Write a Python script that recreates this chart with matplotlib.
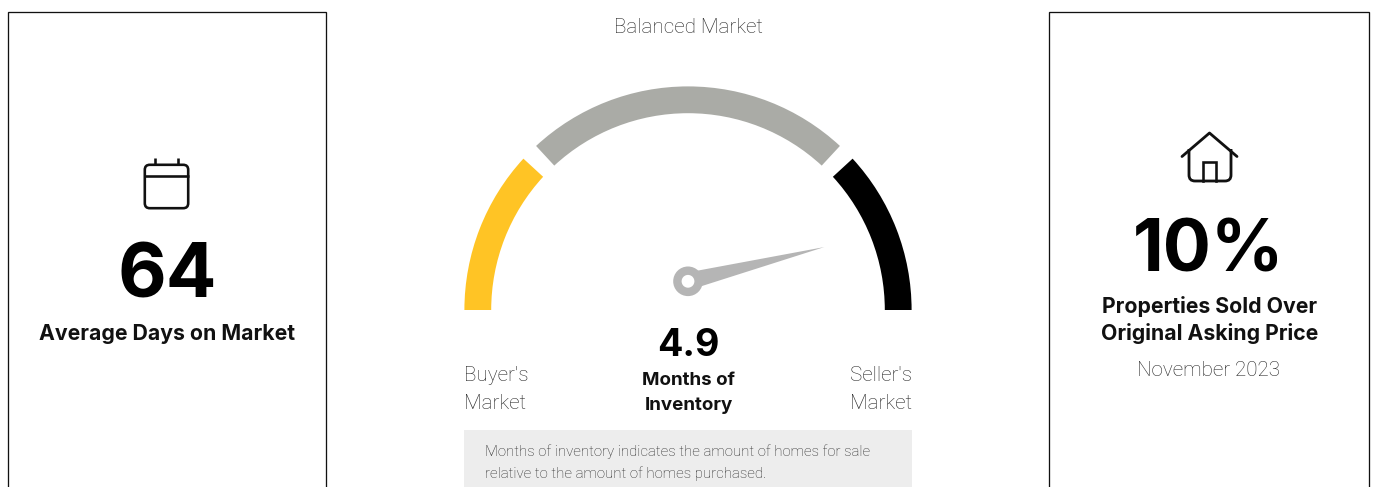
import numpy as np
import matplotlib
matplotlib.use('Agg')
import matplotlib.pyplot as plt
from matplotlib.patches import Wedge, Circle, Polygon, Rectangle, FancyBboxPatch, PathPatch
from matplotlib.path import Path

# gauge segments, degrees from the right hand side
segment_names = ["Buyer's Market", "Balanced Market", "Seller's Market"]
segment_from = [137.4, 47.2, 0.0]
segment_to = [180.0, 132.8, 42.6]
segment_colors = ['#ffc425', '#aaaba6', '#000000']
needle_angle = 14.1
needle_length = 140.5

months_value = '4.9'
days_value = '64'
over_asking_value = '10%'
date_label = 'November 2023'

W, H = 1374, 487
fig = plt.figure(figsize=(W / 100, H / 100), dpi=100, facecolor='white')
ax = fig.add_axes([0, 0, 1, 1])
ax.set_xlim(0, W)
ax.set_ylim(H, 0)
ax.axis('off')

PX = 0.72  # one pixel in points
BOLD = 'Inter'
LIGHT = 'Roboto'
GREY = '#262626'

# cards, they run off the bottom
for x0, x1 in [(7.9, 326.2), (1049.3, 1369)]:
    ax.add_patch(Rectangle((x0, 11.6), x1 - x0, H + 20, fc='white', ec='#111111', lw=1.3 * PX))

# gauge, y axis is flipped so mirror the angles
cx, cy = 688, 310
for a0, a1, c in zip(segment_from, segment_to, segment_colors):
    ax.add_patch(Wedge((cx, cy), 223.6, -a1, -a0, width=26.8, fc=c, ec='none'))

# needle
hx, hy = 688, 281.3
a = np.radians(needle_angle)
tip = (hx + needle_length * np.cos(a), hy - needle_length * np.sin(a))
nx, ny = np.sin(a), np.cos(a)
ax.add_patch(Polygon([(hx + 12 * np.cos(a) - nx * 8, hy - 12 * np.sin(a) - ny * 8),
                      tip,
                      (hx + 12 * np.cos(a) + nx * 8, hy - 12 * np.sin(a) + ny * 8)],
                     fc='#b5b5b5', ec='none'))
ax.add_patch(Circle((hx, hy), 10.6, fc='white', ec='#b5b5b5', lw=8.4 * PX))

# calendar icon
ic = '#111111'
lw_icon = 2.6 * PX
ax.add_patch(FancyBboxPatch((150, 170), 33, 33, boxstyle='round,pad=5.2,rounding_size=5',
                            fc='none', ec=ic, lw=lw_icon))
ax.plot([145, 188.5], [175.5, 175.5], color=ic, lw=lw_icon, solid_capstyle='butt')
ax.plot([155.3, 155.3], [158, 165], color=ic, lw=lw_icon, solid_capstyle='butt')
ax.plot([177.7, 177.7], [158, 165], color=ic, lw=lw_icon, solid_capstyle='butt')

# house icon
ax.plot([1182, 1209.5, 1237], [156.5, 133, 156.5], color=ic, lw=2.8 * PX,
        solid_capstyle='round', solid_joinstyle='round')
house = Path([(1189, 149), (1189, 175), (1189, 181), (1195, 181), (1225, 181), (1231, 181),
              (1231, 175), (1231, 149)],
             [Path.MOVETO, Path.LINETO, Path.CURVE3, Path.CURVE3, Path.LINETO, Path.CURVE3,
              Path.CURVE3, Path.LINETO])
ax.add_patch(PathPatch(house, fc='none', ec=ic, lw=2.8 * PX))
ax.plot([1203, 1203, 1216, 1216], [181, 162, 162, 181], color=ic, lw=2.6 * PX,
        solid_joinstyle='miter')

# note box
ax.add_patch(Rectangle((464, 430), 448, 60, fc='#ededed', ec='none'))


def label(x, y, s, size, ha='center', weight='normal', family=LIGHT, color='#111111', **kw):
    ax.text(x, y, s, fontsize=size, ha=ha, va='baseline', fontweight=weight, family=family,
            color=color, **kw)


label(167, 298, days_value, 54, weight='bold', family=BOLD, color='black')
label(167, 339.5, 'Average Days on Market', 15.3, weight='bold', family=BOLD)

label(688.5, 33, segment_names[1], 14.9, color=GREY, weight='light')
label(688.5, 356.5, months_value, 27, weight='bold', family=BOLD, color='black')
label(688.5, 385, 'Months of', 13.5, weight='bold', family=BOLD)
label(688.5, 409.5, 'Inventory', 13.5, weight='bold', family=BOLD)

label(464, 381, "Buyer's", 14.9, ha='left', color=GREY, weight='light')
label(464, 409, 'Market', 14.9, ha='left', color=GREY, weight='light')
label(912.5, 381, "Seller's", 14.9, ha='right', color=GREY, weight='light')
label(912.5, 409, 'Market', 14.9, ha='right', color=GREY, weight='light')

label(485, 456, 'Months of inventory indicates the amount of homes for sale', 10.8, ha='left', color=GREY, weight='light')
label(485, 478, 'relative to the amount of homes purchased.', 10.8, ha='left', color=GREY, weight='light')

label(1209, 272, over_asking_value, 51.5, weight='bold', family=BOLD, color='black')
label(1209.5, 313, 'Properties Sold Over', 15.3, weight='bold', family=BOLD)
label(1209.5, 339.5, 'Original Asking Price', 15.3, weight='bold', family=BOLD)
label(1208.5, 376.5, date_label, 14.9, color=GREY, weight='light')

fig.savefig('out.png', dpi=100, facecolor='white')
